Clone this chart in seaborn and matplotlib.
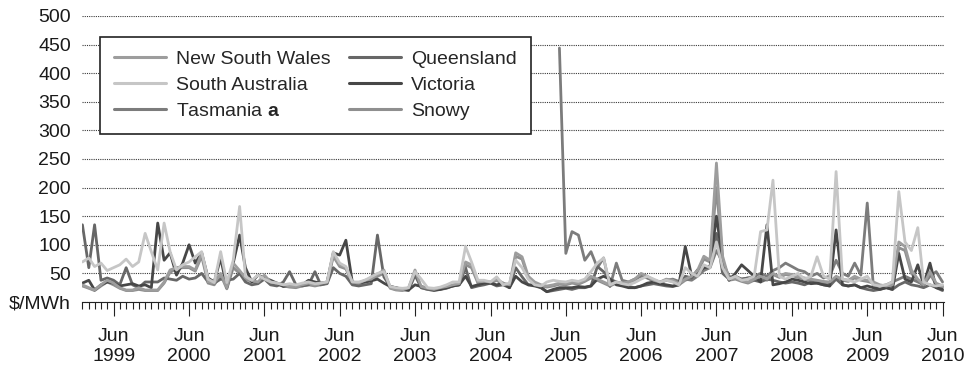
import numpy as np
import pandas as pd
import matplotlib
matplotlib.use("Agg")
import matplotlib.pyplot as plt
import matplotlib.dates as mdates
from matplotlib.lines import Line2D
import seaborn as sns

# Monthly average spot prices ($/MWh), Jan 1999 - Jun 2010
start = "1999-01-01"

nsw = [
    30, 25, 21, 30, 38, 33, 25, 21, 21, 25, 21, 21,
    21, 35, 56, 60, 62, 62, 56, 86, 35, 33, 50, 25,
    68, 55, 42, 38, 35, 47, 35, 33, 30, 28, 27, 30,
    33, 30, 33, 35, 82, 65, 60, 35, 33, 38, 40, 48,
    56, 25, 22, 21, 25, 56, 27, 24, 22, 25, 27, 30,
    32, 70, 65, 35, 36, 35, 40, 33, 30, 86, 79, 45,
    35, 30, 28, 30, 33, 32, 35, 33, 38, 45, 40, 35,
    30, 35, 33, 35, 40, 50, 45, 38, 35, 40, 38, 32,
    40, 45, 55, 80, 73, 243, 80, 40, 42, 38, 35, 40,
    45, 40, 50, 45, 50, 48, 45, 42, 40, 38, 36, 35,
    45, 40, 38, 45, 40, 38, 35, 30, 28, 30, 105, 97,
    56, 40, 30, 53, 33, 28,
]

queensland = [
    135, 60, 135, 38, 42, 38, 30, 60, 30, 25, 35, 35,
    35, 42, 40, 38, 45, 40, 42, 50, 35, 33, 40, 38,
    40, 50, 35, 30, 32, 40, 30, 28, 35, 53, 30, 28,
    30, 53, 30, 32, 60, 50, 45, 30, 28, 30, 32, 117,
    44, 27, 25, 22, 20, 47, 25, 22, 20, 22, 24, 28,
    30, 60, 25, 28, 30, 33, 28, 30, 25, 60, 44, 30,
    30, 25, 18, 20, 22, 24, 22, 25, 25, 28, 62, 53,
    40, 35, 30, 27, 25, 28, 30, 32, 30, 28, 27, 30,
    45, 42, 56, 60, 62, 120, 50, 40, 45, 40, 42, 38,
    35, 40, 38, 35, 33, 35, 33, 30, 35, 33, 30, 28,
    40, 30, 28, 30, 25, 22, 20, 22, 25, 22, 30, 35,
    30, 28, 25, 30, 25, 20,
]

victoria = [
    33, 38, 21, 30, 35, 33, 28, 30, 32, 28, 30, 25,
    138, 73, 86, 47, 68, 100, 68, 86, 42, 35, 77, 25,
    68, 117, 60, 35, 47, 42, 38, 33, 27, 30, 28, 30,
    38, 35, 33, 35, 86, 82, 108, 35, 33, 35, 37, 40,
    33, 27, 25, 22, 21, 30, 27, 24, 21, 22, 25, 28,
    30, 45, 27, 30, 33, 33, 30, 33, 25, 45, 35, 30,
    28, 25, 18, 22, 25, 25, 25, 27, 26, 28, 40, 45,
    40, 30, 28, 25, 25, 28, 33, 35, 32, 30, 28, 30,
    97, 45, 50, 60, 62, 150, 73, 38, 50, 65, 55, 45,
    35, 135, 30, 32, 35, 40, 38, 35, 32, 33, 30, 28,
    126, 30, 28, 30, 25, 28, 25, 22, 25, 22, 85, 40,
    35, 65, 30, 68, 25, 22,
]

south_australia = [
    70, 77, 62, 68, 55, 60, 65, 75, 62, 70, 120, 88,
    56, 138, 88, 56, 65, 70, 79, 88, 40, 34, 88, 34,
    73, 167, 45, 38, 47, 40, 35, 33, 30, 32, 30, 33,
    35, 32, 33, 35, 88, 68, 62, 35, 35, 38, 44, 50,
    53, 27, 25, 24, 25, 53, 40, 25, 24, 26, 30, 35,
    35, 97, 70, 38, 38, 35, 44, 30, 33, 73, 60, 40,
    30, 28, 35, 38, 36, 35, 38, 36, 40, 53, 68, 77,
    30, 35, 32, 30, 34, 40, 45, 40, 35, 38, 35, 30,
    60, 50, 45, 65, 60, 105, 60, 40, 45, 38, 40, 45,
    123, 126, 213, 45, 40, 45, 50, 40, 45, 79, 45, 40,
    228, 40, 38, 35, 40, 45, 30, 28, 30, 35, 193, 105,
    90, 130, 35, 30, 28, 30,
]

snowy = [
    28, 24, 20, 28, 35, 30, 24, 20, 20, 22, 20, 20,
    20, 33, 52, 58, 60, 60, 54, 80, 33, 30, 48, 23,
    60, 50, 40, 36, 33, 45, 33, 30, 28, 26, 25, 28,
    30, 28, 30, 33, 80, 62, 58, 33, 32, 35, 38, 45,
    50, 24, 21, 20, 23, 50, 25, 22, 21, 23, 25, 28,
    30, 65, 60, 33, 34, 33, 38, 31, 28, 80, 75, 42,
    33, 28, 26, 28, 31, 30, 33, 31, 36, 42, 38, 33,
    28, 33, 31, 33, 38, 48, 42, 36, 33, 38, 36, 30,
    38, 42, 52, 75, 70, 200, 75, 38, 40, 36, 33, 38,
    42, 38, 48, 43, 48, 46, 43, 40, 38, 36, 34, 33,
    42, 38, 36, 42, 38, 36, 33, 28, 26, 28, 95, 90,
    50, 38, 28, 50, 30, 26,
]

# Tasmania enters the market in May 2005
tas_start = "2005-05-01"
tasmania = [
    444, 85, 123, 117, 73, 88, 60, 77,
    27, 68, 38, 35, 40, 45, 42, 38, 35, 38, 40, 36,
    40, 38, 45, 55, 60, 90, 70, 45, 42, 40, 42, 45,
    50, 45, 55, 60, 68, 62, 56, 53, 45, 50, 42, 45,
    73, 50, 45, 68, 47, 173, 25, 28, 30, 35, 40, 45,
    40, 35, 30, 45, 53, 35,
]

series = {
    "New South Wales": (start, nsw),
    "Queensland": (start, queensland),
    "South Australia": (start, south_australia),
    "Victoria": (start, victoria),
    "Tasmania": (tas_start, tasmania),
    "Snowy": (start, snowy),
}

frames = []
for name, (first, vals) in series.items():
    dates = pd.date_range(first, periods=len(vals), freq="MS")
    frames.append(pd.DataFrame({"date": dates, "price": vals, "region": name}))
df = pd.concat(frames, ignore_index=True)

palette = {
    "New South Wales": "#9d9d9d",
    "South Australia": "#c6c6c6",
    "Tasmania": "#7c7c7c",
    "Queensland": "#676767",
    "Victoria": "#474747",
    "Snowy": "#8f8f8f",
}
draw_order = ["Snowy", "Tasmania", "Queensland", "Victoria", "New South Wales", "South Australia"]
legend_order = ["New South Wales", "South Australia", "Tasmania", "Queensland", "Victoria", "Snowy"]
legend_labels = {"Tasmania": r"Tasmania $\mathbf{a}$"}

sns.set_theme(style="white")
plt.rcParams["font.family"] = ["Liberation Sans", "DejaVu Sans"]
plt.rcParams["mathtext.fontset"] = "custom"
plt.rcParams["mathtext.rm"] = "Liberation Sans"
plt.rcParams["mathtext.bf"] = "Liberation Sans:bold"

FS = 14

fig = plt.figure(figsize=(9.74, 3.73), dpi=100)
ax = fig.add_axes([82 / 974, 1 - 302 / 373, (944 - 82) / 974, (302 - 16) / 373])

for name in draw_order:
    sns.lineplot(data=df[df["region"] == name], x="date", y="price",
                 color=palette[name], linewidth=2.0, ax=ax,
                 estimator=None, legend=False)

ax.set_ylim(0, 500)
ax.set_yticks(range(0, 501, 50))
ax.set_yticklabels(["$/MWh"] + [str(v) for v in range(50, 501, 50)])
ax.tick_params(axis="y", length=0, pad=8, labelsize=FS, labelcolor="#1a1a1a")
ax.grid(axis="y", linestyle=(0, (1, 1)), linewidth=0.8, color="#3a3a3a")
ax.grid(axis="x", visible=False)

ax.set_xlim(pd.Timestamp("1998-12-30"), pd.Timestamp("2010-06-08"))
ax.xaxis.set_major_locator(mdates.MonthLocator(bymonth=6))
ax.xaxis.set_major_formatter(mdates.DateFormatter("%b\n%Y"))
ax.xaxis.set_minor_locator(mdates.MonthLocator())
ax.tick_params(axis="x", which="major", length=10, width=0.8, direction="out",
               pad=9, labelsize=FS, color="#222222", labelcolor="#1a1a1a", bottom=True)
ax.tick_params(axis="x", which="minor", length=5, width=0.8, direction="out",
               color="#222222", bottom=True)
ax.set_xlabel("")
ax.set_ylabel("")

for side in ["left", "right", "top"]:
    ax.spines[side].set_visible(False)
ax.spines["bottom"].set_color("#222222")
ax.spines["bottom"].set_linewidth(0.8)

handles = [Line2D([], [], color=palette[n], linewidth=2.2) for n in legend_order]
labels = [legend_labels.get(n, n) for n in legend_order]
leg = ax.legend(handles, labels, ncol=2, loc="upper left",
                bbox_to_anchor=(18 / 862, (302 - 37) / 286), borderaxespad=0,
                frameon=True, fancybox=False, edgecolor="#222222", framealpha=1,
                fontsize=FS, handlelength=2.7, handletextpad=0.5,
                columnspacing=0.95, labelspacing=0.43, borderpad=0.7)
leg.get_frame().set_linewidth(1.2)

fig.savefig("out.png", dpi=100)
